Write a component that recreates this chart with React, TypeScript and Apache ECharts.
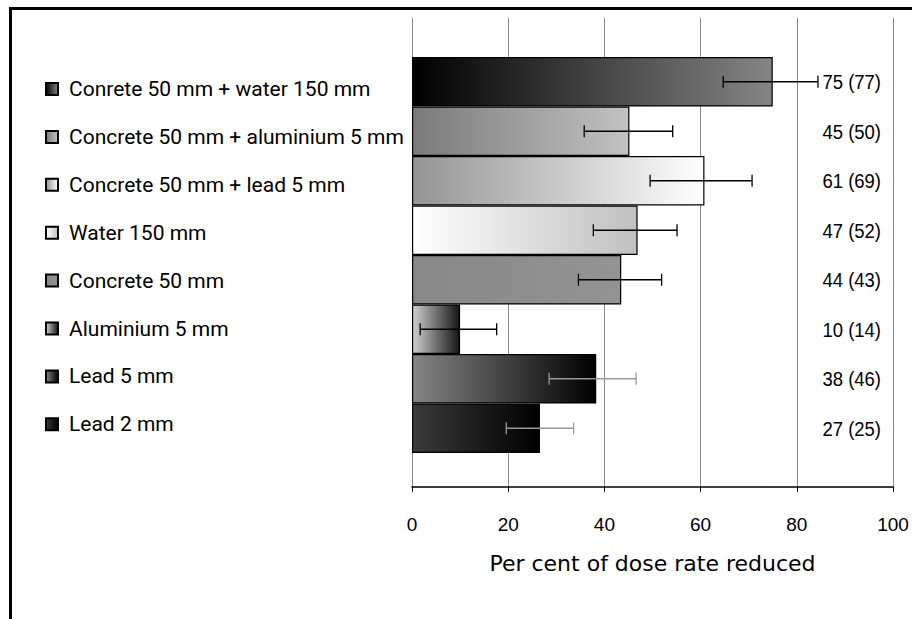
import React, { useEffect, useRef } from 'react';
import * as echarts from 'echarts';

const categories = [
  'Conrete 50 mm + water 150 mm',
  'Concrete 50 mm + aluminium 5 mm',
  'Concrete 50 mm + lead 5 mm',
  'Water 150 mm',
  'Concrete 50 mm',
  'Aluminium 5 mm',
  'Lead 5 mm',
  'Lead 2 mm',
];
const values = [75, 45.2, 60.8, 46.9, 43.5, 10, 38.3, 26.6];
const errLow = [64.7, 35.8, 49.5, 37.7, 34.6, 1.7, 28.5, 19.6];
const errHigh = [84.4, 54.2, 70.7, 55.1, 51.9, 17.6, 46.6, 33.6];
const valueLabels = ['75 (77)', '45 (50)', '61 (69)', '47 (52)', '44 (43)', '10 (14)', '38 (46)', '27 (25)'];
const axisMin = 0;
const axisMax = 100;
const axisInterval = 20;
const axisName = 'Per cent of dose rate reduced';

const gradientStops = [
  ['#000000', '#858585'],
  ['#7a7a7a', '#c2c2c2'],
  ['#949494', '#ffffff'],
  ['#ffffff', '#c0c0c0'],
  ['#888888', '#939393'],
  ['#cfcfcf', '#151515'],
  ['#858585', '#000000'],
  ['#3a3a3a', '#000000'],
];
const errColors = ['#000', '#000', '#000', '#000', '#000', '#000', '#999', '#999'];

const LABEL_FONT = 'Roboto, "Liberation Sans", sans-serif';
const NUM_FONT = '"Liberation Sans", Arial, sans-serif';

function grad(stops: string[]) {
  return new echarts.graphic.LinearGradient(0, 0, 1, 0, [
    { offset: 0, color: stops[0] },
    { offset: 1, color: stops[1] },
  ]);
}

export default function App() {
  const ref = useRef<HTMLDivElement>(null);
  useEffect(() => {
    if (!ref.current) return;
    const chart = echarts.init(ref.current, null, { renderer: 'svg' });

    const barSeries = categories.map((name, i) => ({
      type: 'bar',
      name,
      xAxisIndex: 1,
      yAxisIndex: 1,
      barGap: '-100%',
      barCategoryGap: 0,
      data: categories.map((_, j) => (j === i ? values[i] : '-')),
      itemStyle: { color: grad(gradientStops[i]), borderColor: '#000', borderWidth: 1.2 },
      z: 2,
    }));

    const option: any = {
      animation: false,
      backgroundColor: '#fff',
      graphic: [
        {
          type: 'rect',
          shape: { x: 10.5, y: 8.5, width: 1200, height: 1200 },
          style: { fill: 'none', stroke: '#000', lineWidth: 3 },
          silent: true,
        },
      ],
      legend: {
        orient: 'vertical',
        left: 40,
        top: 72,
        itemWidth: 12,
        itemHeight: 12,
        itemGap: 23.9,
        icon: 'rect',
        selectedMode: false,
        data: categories,
        textStyle: { fontFamily: LABEL_FONT, fontSize: 21, color: '#000', lineHeight: 24, padding: [0, 0, 0, 6] },
      },
      grid: [
        { left: 412, right: 19, top: 18, bottom: 132 },
        { left: 412, right: 19, top: 57, bottom: 166 },
      ],
      xAxis: [
        {
          type: 'value',
          gridIndex: 0,
          min: axisMin,
          max: axisMax,
          interval: axisInterval,
          axisLine: { show: true, lineStyle: { color: '#000', width: 1.5 } },
          axisTick: { show: true, length: 5, lineStyle: { color: '#000', width: 1 } },
          splitLine: { show: true, lineStyle: { color: '#888', width: 1 } },
          axisLabel: { color: '#000', fontFamily: NUM_FONT, fontSize: 19, margin: 28 },
          name: axisName,
          nameLocation: 'middle',
          nameGap: 65,
          nameTextStyle: { fontFamily: '"DejaVu Sans", sans-serif', fontSize: 22, color: '#000' },
        },
        {
          type: 'value',
          gridIndex: 1,
          min: axisMin,
          max: axisMax,
          show: false,
        },
      ],
      yAxis: [
        { type: 'value', gridIndex: 0, show: false, min: 0, max: 1 },
        {
          type: 'category',
          gridIndex: 1,
          inverse: true,
          data: categories,
          show: false,
        },
      ],
      series: [
        ...barSeries,
        {
          type: 'custom',
          name: 'errors',
          xAxisIndex: 1,
          yAxisIndex: 1,
          z: 5,
          data: categories.map((_, i) => [i, errLow[i], errHigh[i]]),
          encode: { x: [1, 2], y: 0 },
          renderItem: (params: any, api: any) => {
            const idx = api.value(0);
            const p1 = api.coord([api.value(1), idx]);
            const p2 = api.coord([api.value(2), idx]);
            const c = errColors[params.dataIndex];
            const h = 6;
            const st = { stroke: c, lineWidth: 1.3 };
            return {
              type: 'group',
              children: [
                { type: 'line', shape: { x1: p1[0], y1: p1[1], x2: p2[0], y2: p2[1] }, style: st },
                { type: 'line', shape: { x1: p1[0], y1: p1[1] - h, x2: p1[0], y2: p1[1] + h }, style: st },
                { type: 'line', shape: { x1: p2[0], y1: p2[1] - h, x2: p2[0], y2: p2[1] + h }, style: st },
              ],
            };
          },
        },
        {
          type: 'custom',
          name: 'labels',
          xAxisIndex: 1,
          yAxisIndex: 1,
          z: 6,
          clip: false,
          data: categories.map((_, i) => [axisMax, i]),
          encode: { x: 0, y: 1 },
          renderItem: (params: any, api: any) => {
            const p = api.coord([api.value(0), api.value(1)]);
            return {
              type: 'text',
              x: p[0] - 12,
              y: p[1],
              scaleX: 0.88,
              style: {
                text: valueLabels[params.dataIndex],
                x: 0,
                y: 0,
                align: 'right',
                verticalAlign: 'middle',
                fontFamily: NUM_FONT,
                fontSize: 21,
                fill: '#000',
              },
            };
          },
        },
      ],
    };
    chart.setOption(option);
    return () => chart.dispose();
  }, []);
  return <div ref={ref} style={{ position: 'absolute', left: 0, top: 0, width: 912, height: 619 }} />;
}
